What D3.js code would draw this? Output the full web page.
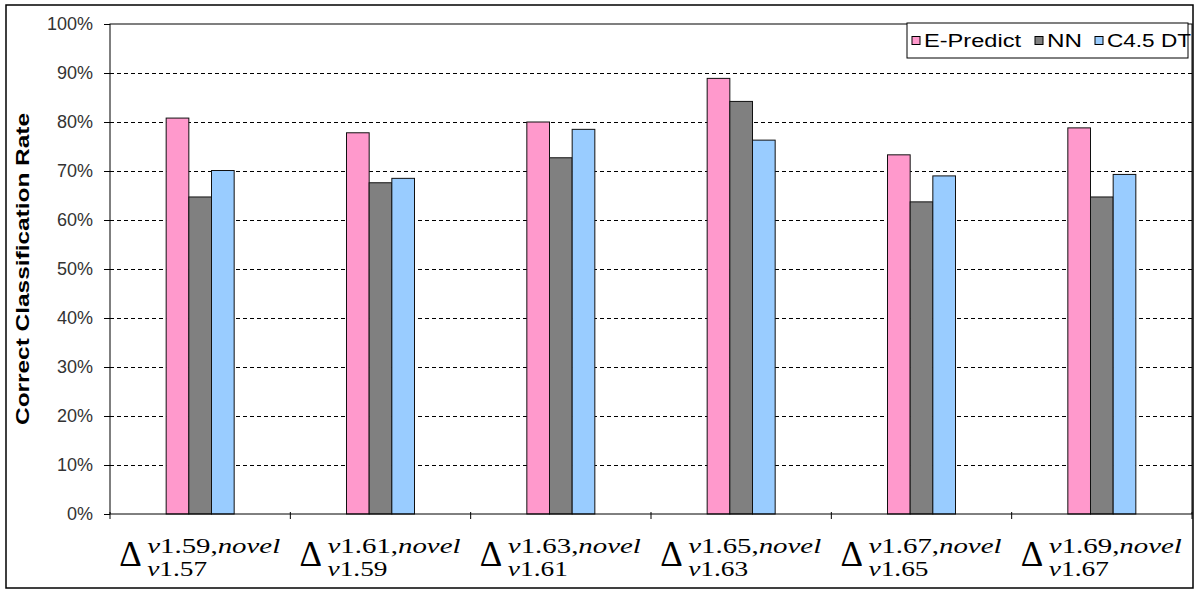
<!DOCTYPE html>
<html lang="en">

<head>
  <meta charset="UTF-8">
  <title>Correct Classification Rate</title>
  <script src="https://d3js.org/d3.v7.min.js"></script>
  <style>
    body {
      margin: 0;
      padding: 0;
      background-color: #ffffff;
      font-family: Arial, "Liberation Sans", sans-serif;
    }

    .tick-label {
      font-size: 18px;
      fill: #333;
    }

    .axis-title {
      font-size: 18px;
      font-weight: bold;
      fill: #000;
    }

    .legend-text {
      font-size: 18px;
      fill: #000;
    }

    .math {
      font-family: "Liberation Serif", "DejaVu Serif", serif;
      fill: #000;
    }
  </style>
</head>

<body>
  <div id="chart"></div>
  <script>
    // categories (x labels are Δ with super/subscript)
    const superLabels = ["1.59", "1.61", "1.63", "1.65", "1.67", "1.69"];
    const subLabels = ["1.57", "1.59", "1.61", "1.63", "1.65", "1.67"];
    const categories = superLabels.map((s, i) => "v" + s + "/v" + subLabels[i]);

    const series = ["E-Predict", "NN", "C4.5 DT"];
    const ePredict = [80.8, 77.8, 80.0, 88.9, 73.3, 78.8];
    const nn = [64.7, 67.6, 72.7, 84.2, 63.7, 64.7];
    const c45dt = [70.1, 68.5, 78.5, 76.3, 69.0, 69.3];
    const yTicks = [0, 10, 20, 30, 40, 50, 60, 70, 80, 90, 100];

    const colors = ["#ff99cc", "#808080", "#99ccff"];
    const values = [ePredict, nn, c45dt];

    const W = 1200, H = 596;
    const margin = { top: 24, right: 8, bottom: 82, left: 110 },
      width = W - margin.left - margin.right,
      height = H - margin.top - margin.bottom;

    const svg = d3.select("#chart")
      .append("svg")
      .attr("width", W)
      .attr("height", H);

    // outer frame
    svg.append("rect")
      .attr("x", 6).attr("y", 5)
      .attr("width", 1187).attr("height", 583)
      .attr("fill", "#fff")
      .attr("stroke", "#000")
      .attr("stroke-width", 1.5);

    const g = svg.append("g")
      .attr("transform", `translate(${margin.left}, ${margin.top})`);

    const x0 = d3.scaleBand()
      .domain(categories)
      .range([0, width])
      .padding(0);

    const groupW = 68;
    const x1 = d3.scaleBand()
      .domain(series)
      .range([0, groupW])
      .padding(0);

    const y = d3.scaleLinear()
      .domain([0, 100])
      .range([height, 0]);

    // gridlines
    g.append("g")
      .selectAll("line")
      .data(yTicks.filter(d => d > 0 && d < 100))
      .enter()
      .append("line")
      .attr("x1", 0).attr("x2", width)
      .attr("y1", d => Math.round(y(d)) + 0.5)
      .attr("y2", d => Math.round(y(d)) + 0.5)
      .attr("stroke", "#000")
      .attr("stroke-width", 1)
      .attr("stroke-dasharray", "4,3");

    // y axis
    const yAxis = g.append("g")
      .call(d3.axisLeft(y).tickValues(yTicks).tickSize(6).tickFormat(d => d + "%"));
    yAxis.select(".domain").remove();
    yAxis.selectAll("line").attr("stroke", "#000");
    yAxis.selectAll("text")
      .attr("class", "tick-label")
      .attr("x", -17);
    yAxis.attr("font-size", null).attr("font-family", null);

    // bars
    const groups = g.selectAll("g.cat")
      .data(categories)
      .enter()
      .append("g")
      .attr("class", "cat")
      .attr("transform", d => `translate(${x0(d) + (x0.bandwidth() - groupW) / 2}, 0)`);

    groups.selectAll("rect")
      .data((d, i) => series.map((s, k) => ({ s: s, v: values[k][i], c: colors[k] })))
      .enter()
      .append("rect")
      .attr("x", d => x1(d.s))
      .attr("y", d => y(d.v))
      .attr("width", x1.bandwidth())
      .attr("height", d => height - y(d.v))
      .attr("fill", d => d.c)
      .attr("stroke", "#111")
      .attr("stroke-width", 1);

    // plot frame
    g.append("rect")
      .attr("x", 0).attr("y", 0)
      .attr("width", width).attr("height", height)
      .attr("fill", "none")
      .attr("stroke", "#000")
      .attr("stroke-width", 1);

    // x ticks at band edges
    const edges = categories.map(d => x0(d)).concat([width]);
    g.append("g")
      .selectAll("line")
      .data(edges)
      .enter()
      .append("line")
      .attr("x1", d => d).attr("x2", d => d)
      .attr("y1", height - 2).attr("y2", height + 5)
      .attr("stroke", "#000");

    // x labels: Δ^{v..,novel}_{v..}
    const labels = g.selectAll("g.xlab")
      .data(categories)
      .enter()
      .append("g")
      .attr("class", "xlab")
      .attr("transform", d => `translate(${x0(d) + x0.bandwidth() / 2}, ${height})`);

    labels.append("text")
      .attr("class", "math")
      .attr("x", -81).attr("y", 52)
      .attr("font-size", 35)
      .text("\u0394");

    const sup = labels.append("text")
      .attr("class", "math")
      .attr("x", -53).attr("y", 39)
      .attr("font-size", 20)
      .attr("textLength", 133)
      .attr("lengthAdjust", "spacingAndGlyphs");
    sup.append("tspan").attr("font-style", "italic").text("v");
    sup.append("tspan").text((d, i) => superLabels[i] + ",");
    sup.append("tspan").attr("font-style", "italic").text("novel");

    const sub = labels.append("text")
      .attr("class", "math")
      .attr("x", -53).attr("y", 62)
      .attr("font-size", 20)
      .attr("textLength", 60)
      .attr("lengthAdjust", "spacingAndGlyphs");
    sub.append("tspan").attr("font-style", "italic").text("v");
    sub.append("tspan").text((d, i) => subLabels[i]);

    // y axis title
    g.append("text")
      .attr("class", "axis-title")
      .attr("transform", "rotate(-90)")
      .attr("x", -height / 2)
      .attr("y", -81)
      .attr("text-anchor", "middle")
      .attr("textLength", 312)
      .attr("lengthAdjust", "spacingAndGlyphs")
      .text("Correct Classification Rate");

    // legend
    const legend = svg.append("g").attr("transform", "translate(907, 23)");
    legend.append("rect")
      .attr("width", 281).attr("height", 35)
      .attr("fill", "#fff")
      .attr("stroke", "#000");

    const legX = [5, 128, 188];
    const legW = [97, 35, 84];
    const items = legend.selectAll("g.item")
      .data(series)
      .enter()
      .append("g")
      .attr("class", "item")
      .attr("transform", (d, i) => `translate(${legX[i]}, 0)`);
    items.append("rect")
      .attr("x", 0).attr("y", 13.5)
      .attr("width", 8).attr("height", 8)
      .attr("fill", (d, i) => colors[i])
      .attr("stroke", "#000");
    items.append("text")
      .attr("class", "legend-text")
      .attr("x", 12).attr("y", 24)
      .attr("textLength", (d, i) => legW[i])
      .attr("lengthAdjust", "spacingAndGlyphs")
      .text(d => d);
  </script>
</body>

</html>
